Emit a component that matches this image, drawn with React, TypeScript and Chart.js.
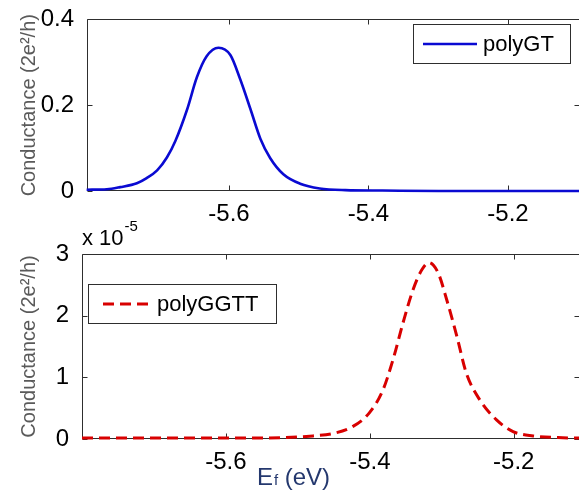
import React, { useEffect, useRef } from 'react';
import { Chart, registerables } from 'chart.js';

Chart.register(...registerables);

// Fermi energy (eV) and conductance (2e^2/h) for the polyGT strand
const energyGT = [-5.804, -5.775, -5.756, -5.732, -5.718, -5.703, -5.689, -5.677, -5.66, -5.646, -5.632, -5.615, -5.598, -5.584, -5.569, -5.555, -5.541, -5.522, -5.498, -5.47, -5.433, -5.38, -5.3, -5.2, -5.097];
const conductanceGT = [0.003, 0.004, 0.009, 0.018, 0.03, 0.048, 0.078, 0.116, 0.19, 0.265, 0.314, 0.334, 0.317, 0.261, 0.19, 0.122, 0.077, 0.039, 0.017, 0.006, 0.002, 0.001, 0.0, 0.0, 0.0];

// Fermi energy (eV) and conductance (x 1e-5, 2e^2/h) for the polyGGTT strand
const energyGGTT = [-5.8, -5.7, -5.6, -5.525, -5.479, -5.451, -5.424, -5.401, -5.382, -5.368, -5.354, -5.34, -5.328, -5.318, -5.305, -5.293, -5.279, -5.266, -5.247, -5.224, -5.201, -5.173, -5.132, -5.108];
const conductanceGGTT = [0.015, 0.015, 0.015, 0.02, 0.05, 0.09, 0.2, 0.42, 0.79, 1.28, 1.88, 2.42, 2.74, 2.86, 2.69, 2.25, 1.66, 1.07, 0.63, 0.31, 0.12, 0.05, 0.02, 0.015];

const energyTicks = [-5.6, -5.4, -5.2];
const gtTicks = [0, 0.2, 0.4];
const ggttTicks = [0, 1, 2, 3];
const yTitle = 'Conductance (2e²/h)';

const FONT = "'Liberation Sans', Arial, Helvetica, sans-serif";
const AXIS = '#2e2e2e';
const BLUE = '#0a0ad2';
const RED = '#d80000';
const TICK_SIZE = 24;

type Box = { left: number; top: number; width: number; height: number; lineFrom: number; lineTo: number; textX: number };

// Box around the plot area with short inward tick marks on all four sides
const framePlugin = {
  id: 'frame',
  beforeDatasetsDraw(chart: any) {
    const { ctx, chartArea: a, scales } = chart;
    const len = 5;
    ctx.save();
    ctx.strokeStyle = AXIS;
    ctx.lineWidth = 1;
    const L = Math.round(a.left) + 0.5;
    const R = Math.round(a.right) - 0.5;
    const T = Math.round(a.top) + 0.5;
    const B = Math.round(a.bottom) - 0.5;
    ctx.beginPath();
    ctx.moveTo(R, T);
    ctx.lineTo(L, T);
    ctx.lineTo(L, B);
    ctx.lineTo(R, B);
    ctx.lineTo(R, T);
    for (const t of scales.x.ticks) {
      const px = Math.round(scales.x.getPixelForValue(t.value)) + 0.5;
      ctx.moveTo(px, B);
      ctx.lineTo(px, B - len);
      ctx.moveTo(px, T);
      ctx.lineTo(px, T + len);
    }
    for (const t of scales.y.ticks) {
      const py = Math.round(scales.y.getPixelForValue(t.value)) + 0.5;
      ctx.moveTo(L, py);
      ctx.lineTo(L + len, py);
      ctx.moveTo(R, py);
      ctx.lineTo(R - len, py);
    }
    ctx.stroke();
    ctx.restore();
  },
};

// Boxed legend entry drawn from the dataset's own label and style
function legendPlugin(box: Box) {
  return {
    id: 'boxLegend',
    afterDraw(chart: any) {
      const ds = chart.data.datasets[0];
      const { ctx } = chart;
      ctx.save();
      ctx.fillStyle = '#ffffff';
      ctx.fillRect(box.left, box.top, box.width, box.height);
      ctx.strokeStyle = AXIS;
      ctx.lineWidth = 1;
      ctx.strokeRect(box.left + 0.5, box.top + 0.5, box.width - 1, box.height - 1);
      const cy = box.top + box.height / 2;
      ctx.strokeStyle = ds.borderColor;
      ctx.lineWidth = ds.borderWidth;
      ctx.setLineDash(ds.borderDash || []);
      ctx.beginPath();
      ctx.moveTo(box.lineFrom, cy);
      ctx.lineTo(box.lineTo, cy);
      ctx.stroke();
      ctx.setLineDash([]);
      ctx.fillStyle = '#000000';
      ctx.font = `22px ${FONT}`;
      ctx.textBaseline = 'middle';
      ctx.textAlign = 'left';
      ctx.fillText(ds.label, box.textX, cy + 1);
      ctx.restore();
    },
  };
}

// Axis exponent and the energy axis label of the lower panel
const lowerLabelsPlugin = {
  id: 'lowerLabels',
  afterDraw(chart: any) {
    const { ctx, chartArea: a } = chart;
    ctx.save();
    ctx.textAlign = 'left';
    ctx.textBaseline = 'alphabetic';
    ctx.fillStyle = '#000000';
    ctx.font = `22px ${FONT}`;
    const x0 = a.left;
    const by = a.top - 9;
    ctx.fillText('x 10', x0, by);
    const w = ctx.measureText('x 10').width;
    ctx.font = `15px ${FONT}`;
    ctx.fillText('-5', x0 + w + 1, by - 14);

    ctx.fillStyle = '#24386e';
    const cx = 293;
    const base = a.bottom + 46;
    ctx.font = `24px ${FONT}`;
    const wE = ctx.measureText('E').width;
    ctx.font = `15px ${FONT}`;
    const wf = ctx.measureText('f').width;
    ctx.font = `24px ${FONT}`;
    const wRest = ctx.measureText(' (eV)').width;
    let x = cx - (wE + wf + wRest) / 2;
    ctx.fillText('E', x, base);
    x += wE;
    ctx.font = `15px ${FONT}`;
    ctx.fillText('f', x + 1, base);
    x += wf + 1;
    ctx.font = `24px ${FONT}`;
    ctx.fillText(' (eV)', x, base);
    ctx.restore();
  },
};

function makeOptions(p: {
  xMin: number; xMax: number; yMax: number; yTicks: number[];
  axisWidth: number; axisHeight: number; padTop: number; fmt: (v: number) => string;
}) {
  return {
    responsive: false,
    animation: false as const,
    layout: { padding: { top: p.padTop, left: 0, right: 2, bottom: 0 } },
    plugins: { legend: { display: false }, tooltip: { enabled: false } },
    elements: { point: { radius: 0 } },
    scales: {
      x: {
        type: 'linear' as const,
        min: p.xMin,
        max: p.xMax,
        grid: { display: false },
        border: { display: false },
        afterBuildTicks: (s: any) => { s.ticks = energyTicks.map((v) => ({ value: v })); },
        afterFit: (s: any) => { s.height = p.axisHeight; },
        ticks: {
          color: '#000000',
          padding: 1,
          maxRotation: 0,
          font: { family: FONT, size: TICK_SIZE },
          callback: (v: any) => Number(v).toFixed(1),
        },
      },
      y: {
        type: 'linear' as const,
        min: 0,
        max: p.yMax,
        grid: { display: false },
        border: { display: false },
        afterBuildTicks: (s: any) => { s.ticks = p.yTicks.map((v) => ({ value: v })); },
        afterFit: (s: any) => { s.width = p.axisWidth; },
        title: {
          display: true,
          text: yTitle,
          color: '#5a5a5a',
          font: { family: FONT, size: 20 },
          padding: { top: 17, bottom: 0 },
        },
        ticks: {
          color: '#000000',
          padding: 5,
          font: { family: FONT, size: TICK_SIZE },
          callback: (v: any) => p.fmt(Number(v)),
        },
      },
    },
  };
}

export default function App() {
  const topRef = useRef<HTMLCanvasElement>(null);
  const bottomRef = useRef<HTMLCanvasElement>(null);

  useEffect(() => {
    const top = new Chart(topRef.current!, {
      type: 'line',
      data: {
        datasets: [{
          label: 'polyGT',
          data: energyGT.map((e, i) => ({ x: e, y: conductanceGT[i] })),
          borderColor: BLUE,
          borderWidth: 2.6,
          cubicInterpolationMode: 'monotone',
          clip: false,
          fill: false,
        } as any],
      },
      options: makeOptions({
        xMin: -5.8035, xMax: -5.0968, yMax: 0.4, yTicks: gtTicks,
        axisWidth: 87, axisHeight: 59, padTop: 14,
        fmt: (v) => (v === 0 ? '0' : v.toFixed(1)),
      }) as any,
      plugins: [framePlugin, legendPlugin({ left: 413, top: 24, width: 158, height: 40, lineFrom: 423, lineTo: 477, textX: 483 })],
    });

    const bottom = new Chart(bottomRef.current!, {
      type: 'line',
      data: {
        datasets: [{
          label: 'polyGGTT',
          data: energyGGTT.map((e, i) => ({ x: e, y: conductanceGGTT[i] })),
          borderColor: RED,
          borderWidth: 3,
          borderDash: [11, 6],
          cubicInterpolationMode: 'monotone',
          clip: false,
          fill: false,
        } as any],
      },
      options: makeOptions({
        xMin: -5.8, xMax: -5.108, yMax: 3, yTicks: ggttTicks,
        axisWidth: 82, axisHeight: 58, padTop: 44,
        fmt: (v) => String(Math.round(v)),
      }) as any,
      plugins: [framePlugin, legendPlugin({ left: 88, top: 74, width: 189, height: 40, lineFrom: 103, lineTo: 152, textX: 157 }), lowerLabelsPlugin],
    });

    return () => {
      top.destroy();
      bottom.destroy();
    };
  }, []);

  return (
    <div style={{ position: 'fixed', left: 0, top: 0, width: 579, height: 497, overflow: 'hidden', background: '#ffffff' }}>
      <canvas ref={topRef} width={582} height={250} style={{ position: 'absolute', left: 0, top: 0, width: 582, height: 250 }} />
      <canvas ref={bottomRef} width={582} height={287} style={{ position: 'absolute', left: 0, top: 210, width: 582, height: 287 }} />
    </div>
  );
}
